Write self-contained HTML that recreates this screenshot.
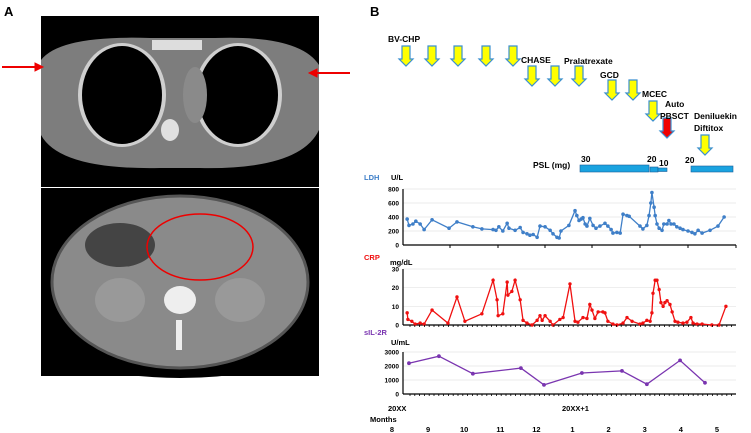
<!DOCTYPE html>
<html><head><meta charset="utf-8"><style>
body{margin:0;width:751px;height:433px;background:#fff;overflow:hidden;font-family:"Liberation Sans",sans-serif}
svg{position:absolute;left:0;top:0}
text{font-family:"Liberation Sans",sans-serif;font-weight:bold}
</style></head><body>
<svg id="fig" width="751" height="433">
<!-- Panel A -->
<text x="4" y="16" font-size="13">A</text>
<g>
<rect x="41" y="16" width="278" height="171" fill="#000"/>
<path d="M41 60 Q60 35 150 38 L215 38 Q300 35 319 65 L319 130 Q300 170 200 168 L160 168 Q60 170 41 135Z" fill="#7d7d7d"/>
<ellipse cx="122" cy="95" rx="44" ry="52" fill="#cfcfcf"/>
<ellipse cx="238" cy="95" rx="44" ry="52" fill="#cfcfcf"/>
<ellipse cx="122" cy="95" rx="40" ry="49" fill="#000"/>
<ellipse cx="238" cy="95" rx="40" ry="49" fill="#000"/>
<ellipse cx="195" cy="95" rx="12" ry="28" fill="#8a8a8a"/>
<ellipse cx="170" cy="130" rx="9" ry="11" fill="#e0e0e0"/>
<rect x="152" y="40" width="50" height="10" fill="#ddd"/>
</g>
<g>
<rect x="41" y="188" width="278" height="188" fill="#000"/>
<ellipse cx="180" cy="282" rx="128" ry="86" fill="#8a8a8a" stroke="#555" stroke-width="3"/>
<ellipse cx="120" cy="245" rx="35" ry="22" fill="#444"/>
<ellipse cx="120" cy="300" rx="25" ry="22" fill="#999"/>
<ellipse cx="240" cy="300" rx="25" ry="22" fill="#999"/>
<ellipse cx="180" cy="300" rx="16" ry="14" fill="#eee"/>
<rect x="176" y="320" width="6" height="30" fill="#eee"/>
<path d="M41 356 Q180 400 319 356 L319 376 L41 376Z" fill="#000"/>
</g>
<ellipse cx="200" cy="247" rx="53" ry="33" fill="none" stroke="#e00" stroke-width="1.5"/>
<g fill="#e00" stroke="#e00">
<line x1="2" y1="67" x2="36" y2="67" stroke-width="2"/><polygon points="43,67 35,63 35,71"/>
<line x1="350" y1="73" x2="316" y2="73" stroke-width="2"/><polygon points="309,73 317,69 317,77"/>
</g>
<!-- Panel B -->
<text x="370" y="16" font-size="13">B</text>
<g id="treat" font-size="8.5"></g>
<g id="charts"></g>
</svg>
<script>
// ---- data ----
const ldhT=[.42,.47,.58,.66,.78,.89,1.11,1.58,1.80,2.24,2.49,2.80,2.88,2.96,3.07,3.19,3.24,3.41,3.55,3.63,3.74,3.82,3.91,4.02,4.10,4.24,4.38,4.46,4.57,4.63,4.68,4.90,5.07,5.12,5.18,5.24,5.29,5.35,5.40,5.48,5.57,5.65,5.76,5.90,5.98,6.07,6.12,6.23,6.32,6.40,6.51,6.57,6.87,6.95,7.06,7.12,7.17,7.20,7.26,7.29,7.34,7.40,7.48,7.53,7.62,7.67,7.73,7.81,7.89,7.98,8.06,8.20,8.31,8.39,8.48,8.59,8.81,9.03,9.20];
const ldhV=[370,280,300,340,300,220,360,240,330,260,230,220,210,260,200,310,240,210,250,180,160,140,150,110,270,260,210,160,110,100,200,280,490,420,350,370,390,300,270,380,280,240,270,310,270,220,170,180,170,440,420,410,270,230,280,420,600,750,540,420,300,240,210,300,300,350,300,300,260,240,220,200,180,160,210,170,210,270,400];
const crpT=[.42,.44,.55,.64,.78,.89,1.11,1.55,1.80,2.02,2.49,2.80,2.91,2.94,3.07,3.19,3.21,3.32,3.41,3.55,3.63,3.74,3.88,4.02,4.10,4.16,4.24,4.38,4.46,4.65,4.74,4.93,5.07,5.15,5.29,5.40,5.48,5.54,5.62,5.71,5.84,5.90,5.98,6.12,6.23,6.40,6.51,6.65,6.87,6.95,7.06,7.15,7.20,7.23,7.29,7.34,7.40,7.45,7.51,7.56,7.62,7.70,7.76,7.84,7.92,8.06,8.17,8.28,8.34,8.45,8.59,8.86,9.06,9.25];
const crpV=[6.5,3,2,0.5,1,0.5,8,1,15,2,6,24,13.5,5,6,23,16,18,24,13.5,2.5,1,0,2.5,5,2.5,5,2,0,3,4,22,2,1.5,4,3.5,11,8,3.5,7,7,6.5,2,0.5,0,1,4,2,0.5,1,2.5,2,6.5,17,24,24,19,12,10,12,13,11,7,2,1.5,1,1.5,4,1,0.5,0.5,0,0,10];
const silT=[.47,1.30,2.24,3.57,4.21,5.26,6.37,7.06,7.98,8.67];
const silV=[2200,2700,1450,1850,650,1500,1650,700,2400,800];
const ldhTicks=[0,200,400,600,800];
const crpTicks=[0,10,20,30];
const silTicks=[0,1000,2000,3000];
const monthLabels=["8","9","10","11","12","1","2","3","4","5"];
const NS="http://www.w3.org/2000/svg";
const xs=t=>392+t*36.1;
const X0=403,X1=736;
function mk(tag,attrs,parent){const e=document.createElementNS(NS,tag);for(const k in attrs)e.setAttribute(k,attrs[k]);parent.appendChild(e);return e;}
const charts=document.getElementById('charts');
function panel(name,yTop,yBot,max,ticks,T,V,color,r){
  const g=mk('g',{},charts);
  
  
  const ys=v=>yBot-(v/max)*(yBot-yTop);
  ticks.forEach(tk=>{
    if(tk>0){const gl=mk('line',{x1:X0,x2:X1,y1:ys(tk),y2:ys(tk),stroke:'#e4e4e4','stroke-width':0.7},g);
    }
    const tx=mk('text',{x:X0-4,y:ys(tk)+2.5,'font-size':6.5,'text-anchor':'end'},g);tx.textContent=tk;
    
  });
  mk('line',{x1:X0,x2:X0,y1:yTop,y2:yBot,stroke:'#000','stroke-width':1.2},g);
  const ax=mk('line',{x1:X0,x2:X1,y1:yBot,y2:yBot,stroke:'#000','stroke-width':1.2},g);
  
  const pts=T.map((t,i)=>xs(t)+','+ys(V[i])).join(' ');
  const pl=mk('polyline',{points:pts,fill:'none',stroke:color,'stroke-width':1.3},g);
  
  T.forEach((t,i)=>{const c=mk('circle',{cx:xs(t),cy:ys(V[i]),r:r,fill:color},g);
    });
}
panel('ldh',189,245,800,ldhTicks,ldhT,ldhV,'#3f7fc8',1.8);
panel('crp',269,325,30,crpTicks,crpT,crpV,'#f01010',1.7);
panel('sil2r',352,394,3000,silTicks,silT,silV,'#7a35b0',1.9);
[450,498,545,592,640,688,736].forEach(x=>{mk('line',{x1:x,x2:x,y1:245,y2:248,stroke:'#000'},charts);});
for(let x=410;x<736;x+=4.8){mk('line',{x1:x,x2:x,y1:325,y2:327,stroke:'#000','stroke-width':0.8},charts);mk('line',{x1:x,x2:x,y1:394,y2:396,stroke:'#000','stroke-width':0.8},charts);}
function txt(s,x,y,size,fill,name,anchor){const t=mk('text',{x:x,y:y,'font-size':size,fill:fill||'#000','text-anchor':anchor||'start'},charts);t.textContent=s;
  return t;}
txt('LDH',364,180,7.5,'#3f7fc8','ldh-label');txt('U/L',391,180,7.5,'#000','ldh-unit');
txt('CRP',364,260,7.5,'#f01010','crp-label');txt('mg/dL',390,265,7.5,'#000','crp-unit');
txt('sIL-2R',364,335,7.5,'#7a35b0','sil2r-label');txt('U/mL',391,345,7.5,'#000','sil2r-unit');
txt('20XX',388,411,7.5,'#000','year-label-1');txt('20XX+1',562,411,7.5,'#000','year-label-2');
txt('Months',370,422,7.5,'#000','months-label');
monthLabels.forEach((m,i)=>txt(m,xs(i),432,7.5,'#000','month-tick-label','middle'));
const tr=document.getElementById('treat');
function arrow(x,y,col,name){const h=20,w=4,hw=7,hh=7;
  const p=mk('polygon',{points:`${x-w},${y} ${x+w},${y} ${x+w},${y+h-hh} ${x+hw},${y+h-hh} ${x},${y+h} ${x-hw},${y+h-hh} ${x-w},${y+h-hh}`,fill:col,stroke:'#3a8fd0','stroke-width':1.2},tr);
  }
[406,432,458,486,513].forEach(x=>arrow(x,46,'#ffff00','bv-chp-arrow'));
[532,555].forEach(x=>arrow(x,66,'#ffff00','chase-arrow'));
arrow(579,66,'#ffff00','pralatrexate-arrow');
[612,633].forEach(x=>arrow(x,80,'#ffff00','gcd-arrow'));
arrow(653,101,'#ffff00','mcec-arrow');
arrow(667,118,'#f00000','auto-pbsct-arrow');
arrow(705,135,'#ffff00','denileukin-arrow');
function lbl(s,x,y,name){const t=mk('text',{x:x,y:y,'font-size':8.5},tr);t.textContent=s;}
lbl('BV-CHP',388,42,'bv-chp-label');lbl('CHASE',521,63,'chase-label');lbl('Pralatrexate',564,64,'pralatrexate-label');
lbl('GCD',600,78,'gcd-label');lbl('MCEC',642,97,'mcec-label');lbl('Auto',665,107,'auto-label');lbl('PBSCT',660,119,'pbsct-label');
lbl('Deniluekin',694,119,'denileukin-label');lbl('Diftitox',694,131,'diftitox-label');
lbl('PSL (mg)',533,168,'psl-label');
[[580,165,69,7],[650,167,8,5],[658,168,9,3.5],[691,166,42,6]].forEach(b=>{const r=mk('rect',{x:b[0],y:b[1],width:b[2],height:b[3],fill:'#1aa3e0',stroke:'#1a5f9a','stroke-width':0.6},tr);
  });
lbl('30',581,162,'psl-dose-30');lbl('20',647,162,'psl-dose-20');lbl('10',659,166,'psl-dose-10');lbl('20',685,163,'psl-dose-20b');
</script>
</body></html>
